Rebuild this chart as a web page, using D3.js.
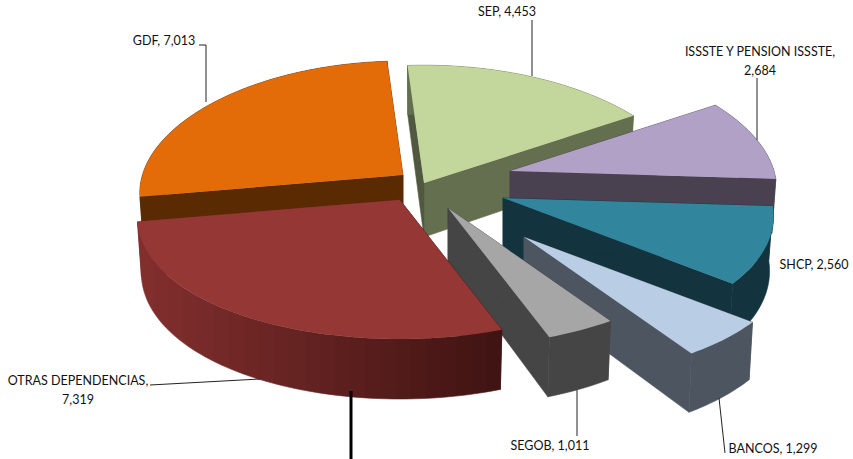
<!DOCTYPE html>
<html>
<head>
<meta charset="utf-8">
<script src="https://cdn.jsdelivr.net/npm/d3@7"></script>
<style>
  html, body { margin: 0; padding: 0; background: #fff; }
  text { font-family: Lato, "Open Sans", sans-serif; font-size: 12.5px; fill: #111; }
</style>
</head>
<body>
<div id="chart"></div>
<script>
// datos
var categories = ['SEP', 'ISSSTE Y PENSION ISSSTE', 'SHCP', 'BANCOS', 'SEGOB', 'OTRAS DEPENDENCIAS', 'GDF'];
var values = [4453, 2684, 2560, 1299, 1011, 7319, 7013];

// colores: cara superior, pared (inicio y fin del degradado), pared radial izquierda
var topColors = ['#c3d69b', '#b2a1c7', '#31859c', '#b9cde5', '#a6a6a6', '#953735', '#e36c09'];
var wallFrom = ['#636f4e', '#4a4150', '#13343f', '#4d5660', '#454545', '#832f2e', '#5a2a03'];
var wallTo = ['#636f4e', '#4a4150', '#13343f', '#4d5660', '#454545', '#3f1312', '#5a2a03'];
var sideColors = ['#50593f', '#4a4150', '#13343f', '#4d5660', '#454545', '#3f1312', '#5a2a03'];

// vertice y ajuste de radio de cada rebanada (pie explotado)
var apexX = [424, 510, 503, 524, 448, 400, 403];
var apexY = [183, 171, 198, 237, 208, 200, 175];
var radiusFit = [1.02, 1, 1.015, 1.01, 0.98, 0.985, 0.987];

// orden de pintado, de atras hacia adelante
var drawOrder = [6, 0, 1, 2, 3, 4, 5];

const width = 853;
const height = 459;
const radiusX = 264;
const radiusY = 127;
const perspX = 0.14;
const perspY = 0.1;
const depth = 54;
const startDeg = -4;
const wallBands = 24;

var svg = d3.select('#chart').append('svg')
    .attr('width', width)
    .attr('height', height)
    .style('display', 'block');
var defs = svg.append('defs');

var pie = d3.pie().sort(null).startAngle(startDeg * Math.PI / 180).endAngle((startDeg + 360) * Math.PI / 180);
var arcs = pie(values);

var path = d3.line().x(d => d[0]).y(d => d[1]);

// proyeccion con perspectiva: r en [0,1], a medido desde arriba en sentido horario
function project(i, r, a, lower) {
    var x = radiusFit[i] * radiusX * r * Math.sin(a) / (1 + perspX * r * Math.cos(a));
    var w = 1 + perspY * r * Math.cos(a);
    var y = -radiusFit[i] * radiusY * r * Math.cos(a) / w;
    if (lower) {
        return [apexX[i] + x * 0.985, apexY[i] + y + depth / w];
    }
    return [apexX[i] + x, apexY[i] + y];
}

function arcPoints(i, a0, a1, lower) {
    var n = Math.max(2, Math.ceil((a1 - a0) * 40));
    return d3.range(n + 1).map(k => project(i, 1, a0 + (a1 - a0) * k / n, lower));
}

drawOrder.forEach(function (i) {
    var d = arcs[i];
    var g = svg.append('g').attr('class', 'slice');

    // degradado por bandas de la pared exterior
    var paint = d3.interpolateRgb(wallFrom[i], wallTo[i]);
    var grad = defs.append('linearGradient')
        .attr('id', 'wall' + i)
        .attr('gradientUnits', 'userSpaceOnUse')
        .attr('x1', project(i, 1, d.endAngle)[0])
        .attr('x2', project(i, 1, d.startAngle)[0])
        .attr('y1', 0)
        .attr('y2', 0);
    d3.range(wallBands).forEach(function (b) {
        var c = paint((b + 0.5) / wallBands);
        grad.append('stop').attr('offset', b / wallBands).attr('stop-color', c);
        grad.append('stop').attr('offset', (b + 1) / wallBands).attr('stop-color', c);
    });

    var up = arcPoints(i, d.startAngle, d.endAngle, false);
    var down = arcPoints(i, d.startAngle, d.endAngle, true).reverse();

    // paredes radiales
    var centerUp = project(i, 0, 0);
    var centerDown = project(i, 0, 0, true);
    g.append('path')
        .attr('d', path([centerUp, project(i, 1, d.endAngle), project(i, 1, d.endAngle, true), centerDown]) + 'Z')
        .attr('fill', wallFrom[i])
        .attr('stroke', wallFrom[i])
        .attr('stroke-width', 0.6);
    g.append('path')
        .attr('d', path([centerUp, project(i, 1, d.startAngle), project(i, 1, d.startAngle, true), centerDown]) + 'Z')
        .attr('fill', sideColors[i])
        .attr('stroke', sideColors[i])
        .attr('stroke-width', 0.6);

    // pared exterior
    g.append('path')
        .attr('d', path(up.concat(down)) + 'Z')
        .attr('fill', 'url(#wall' + i + ')')
        .attr('stroke', 'url(#wall' + i + ')')
        .attr('stroke-width', 0.6);

    // cara superior
    g.append('path')
        .attr('d', path([centerUp].concat(up)) + 'Z')
        .attr('fill', topColors[i]);
});

// lineas guia
var leaders = [
    [[199, 45], [206, 45], [206, 102]],
    [[532, 20], [532, 76]],
    [[757, 78], [757, 140]],
    [[719, 398], [725, 453]],
    [[577, 390], [577, 436]],
    [[150, 385], [260, 379]]
];
leaders.forEach(function (p) {
    svg.append('path')
        .attr('d', path(p))
        .attr('fill', 'none')
        .attr('stroke', '#222')
        .attr('stroke-width', 1);
});

// linea negra que baja de la grafica
svg.append('line')
    .attr('x1', 351).attr('x2', 351)
    .attr('y1', 391).attr('y2', 459)
    .attr('stroke', '#000')
    .attr('stroke-width', 3);

// etiquetas
var fmt = d3.format(',');
var labels = [
    { i: 0, x: 507, y: 16, lines: [categories[0] + ', ' + fmt(values[0])] },
    { i: 1, x: 760, y: 56, lines: [categories[1] + ',', fmt(values[1])] },
    { i: 2, x: 814, y: 269, lines: [categories[2] + ', ' + fmt(values[2])] },
    { i: 3, x: 773, y: 453, lines: [categories[3] + ', ' + fmt(values[3])] },
    { i: 4, x: 550, y: 450, lines: [categories[4] + ', ' + fmt(values[4])] },
    { i: 5, x: 78, y: 385, lines: [categories[5] + ',', fmt(values[5])] },
    { i: 6, x: 164, y: 45, lines: [categories[6] + ', ' + fmt(values[6])] }
];
labels.forEach(function (l) {
    l.lines.forEach(function (t, k) {
        svg.append('text')
            .attr('x', l.x)
            .attr('y', l.y + k * 18.5)
            .attr('text-anchor', 'middle')
            .text(t);
    });
});
</script>
</body>
</html>
